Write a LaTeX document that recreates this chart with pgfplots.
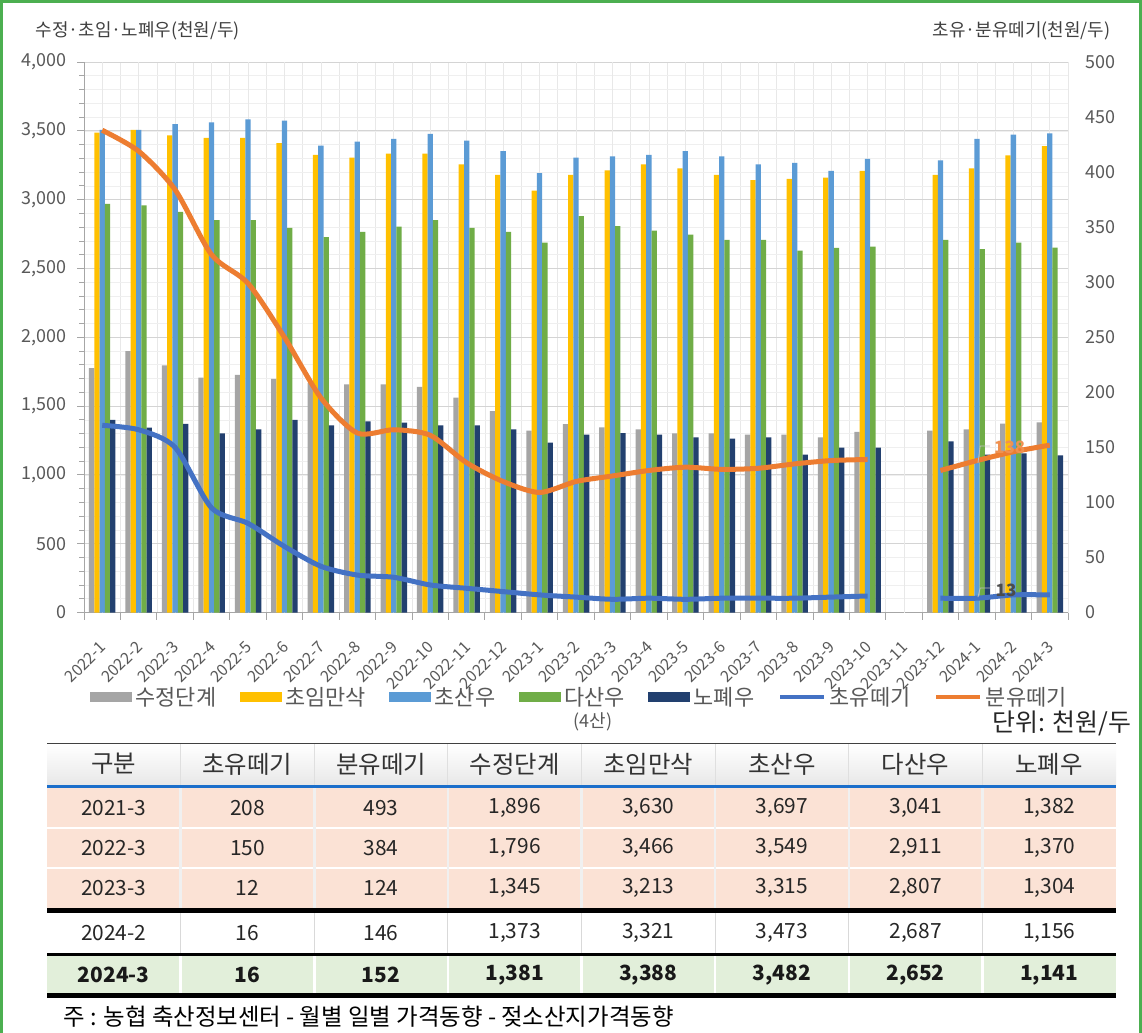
\documentclass[border=0pt]{standalone}
\usepackage{pgfplots}
\pgfplotsset{compat=1.18}
\usepackage{fontspec}
\setmainfont{Noto Sans CJK KR}
\definecolor{cgray}{HTML}{A5A5A5}
\definecolor{cyellow}{HTML}{FFC000}
\definecolor{cblue}{HTML}{5B9BD5}
\definecolor{cgreen}{HTML}{70AD47}
\definecolor{cnavy}{HTML}{22406F}
\definecolor{lblue}{HTML}{4472C4}
\definecolor{lorange}{HTML}{ED7D31}
\definecolor{ticktext}{HTML}{595959}
\definecolor{axisgray}{HTML}{A6A6A6}
\definecolor{gridmajor}{HTML}{D4D4D4}
\definecolor{gridminor}{HTML}{EFEFEF}
\definecolor{gridv}{HTML}{E8E8E8}
\definecolor{frame}{HTML}{4CAF50}
\definecolor{hdrgray}{HTML}{E8E8E8}
\definecolor{tblue}{HTML}{1C6FCB}
\definecolor{tpink}{HTML}{FBE2D5}
\definecolor{tgreen}{HTML}{E2EFDA}
\pgfplotsset{
  barleg/.style={legend image code/.code={\fill[##1] (0bp,-5bp) rectangle (42bp,5bp);}},
  lineleg/.style={legend image code/.code={\draw[##1,line width=4.5bp] (0bp,0bp) -- (44bp,0bp);}},
}
\begin{document}
\begin{tikzpicture}[x=1bp,y=1bp]
\useasboundingbox (0,0) rectangle (1142,-1033);
\fill[white] (0,0) rectangle (1142,-1033);
\draw[line width=3bp, color=frame] (1.5,-1033) -- (1.5,-1.5) -- (1140.5,-1.5) -- (1140.5,-1033);

\begin{axis}[
  at={(84bp,-612.5bp)}, anchor=south west,
  scale only axis, width=984bp, height=550.5bp,
  xmin=-0.5, xmax=26.5, ymin=0, ymax=4000,
  axis x line*=bottom, axis y line*=left,
  axis line style={draw=axisgray, line width=1bp},
  ybar=0pt, bar width=5.3bp,
  xtick={-0.5,0.5,...,26.5}, xticklabels={},
  extra x ticks={0,...,26},
  extra x tick labels={2022-1,2022-2,2022-3,2022-4,2022-5,2022-6,2022-7,2022-8,2022-9,2022-10,2022-11,2022-12,2023-1,2023-2,2023-3,2023-4,2023-5,2023-6,2023-7,2023-8,2023-9,2023-10,2023-11,2023-12,2024-1,2024-2,2024-3},
  extra x tick style={grid=major, tick style={draw=none},
     tick label style={font=\fontsize{16}{18}\selectfont, color=ticktext, xshift=1bp, yshift=-25bp, rotate=45, anchor=east, inner sep=0pt}},
  ytick={0,500,...,4000},
  minor ytick={0,100,...,4000},
  scaled y ticks=false,
  yticklabel style={/pgf/number format/1000 sep={,}, /pgf/number format/assume math mode=true, font=\fontsize{18}{20}\selectfont, color=ticktext, xshift=-7bp},
  tick align=outside,
  major tick length=7bp, minor tick length=5bp,
  tick style={draw=axisgray, line width=0.8bp},
  xmajorgrids, ymajorgrids, yminorgrids,
  major grid style={draw=gridmajor, line width=0.8bp},
  minor grid style={draw=gridminor, line width=0.6bp},
  x grid style={draw=gridv, line width=0.6bp},
  legend style={at={(0.0061,-0.1535)}, anchor=west, draw=none, fill=none,
     legend columns=-1, inner sep=0pt, outer sep=0pt,
     font=\fontsize{22}{24}\selectfont, text=ticktext,
     nodes={inner sep=1.5bp},
     /tikz/every odd column/.append style={column sep=2bp},
     /tikz/every even column/.append style={column sep=22bp}},
]
\addplot[fill=cgray, draw=none, barleg] coordinates {(0,1775)(1,1900)(2,1796)(3,1706)(4,1726)(5,1697)(6,1668)(7,1658)(8,1658)(9,1639)(10,1561)(11,1464)(12,1321)(13,1368)(14,1345)(15,1331)(16,1302)(17,1302)(18,1292)(19,1292)(20,1273)(21,1312)(23,1321)(24,1331)(25,1373)(26,1381)};
\addlegendentry{수정단계}
\addplot[fill=cyellow, draw=none, barleg] coordinates {(0,3487)(1,3506)(2,3466)(3,3448)(4,3448)(5,3410)(6,3325)(7,3305)(8,3334)(9,3334)(10,3257)(11,3180)(12,3065)(13,3180)(14,3213)(15,3257)(16,3228)(17,3180)(18,3141)(19,3151)(20,3160)(21,3209)(23,3180)(24,3228)(25,3321)(26,3388)};
\addlegendentry{초임만삭}
\addplot[fill=cblue, draw=none, barleg] coordinates {(0,3506)(1,3506)(2,3549)(3,3562)(4,3584)(5,3574)(6,3392)(7,3421)(8,3441)(9,3477)(10,3429)(11,3352)(12,3192)(13,3305)(14,3315)(15,3325)(16,3352)(17,3315)(18,3257)(19,3267)(20,3209)(21,3296)(23,3286)(24,3441)(25,3473)(26,3482)};
\addlegendentry{초산우}
\addplot[fill=cgreen, draw=none, barleg] coordinates {(0,2969)(1,2959)(2,2911)(3,2852)(4,2852)(5,2794)(6,2727)(7,2765)(8,2804)(9,2852)(10,2794)(11,2765)(12,2688)(13,2881)(14,2807)(15,2775)(16,2746)(17,2707)(18,2707)(19,2630)(20,2649)(21,2659)(23,2707)(24,2640)(25,2687)(26,2652)};
\addlegendentry{다산우}
\addplot[fill=cnavy, draw=none, barleg] coordinates {(0,1399)(1,1343)(2,1370)(3,1302)(4,1331)(5,1399)(6,1360)(7,1389)(8,1379)(9,1360)(10,1360)(11,1331)(12,1234)(13,1292)(14,1304)(15,1292)(16,1273)(17,1263)(18,1273)(19,1147)(20,1198)(21,1198)(23,1244)(24,1147)(25,1156)(26,1141)};
\addlegendentry{노폐우}
\addlegendimage{lineleg, color=lblue}
\addlegendentry{초유떼기}
\addlegendimage{lineleg, color=lorange}
\addlegendentry{분유떼기}
\end{axis}

\begin{axis}[
  at={(84bp,-612.5bp)}, anchor=south west,
  scale only axis, width=984bp, height=550.5bp,
  xmin=-0.5, xmax=26.5, ymin=0, ymax=500,
  axis x line=none, axis y line*=right,
  y axis line style={draw=none},
  ytick={0,50,...,500}, major tick length=0pt,
  yticklabel style={/pgf/number format/assume math mode=true, font=\fontsize{18}{20}\selectfont, color=ticktext, xshift=14bp},
]
\addplot[color=lorange, line width=5bp, smooth, tension=0.45] coordinates {(0,438)(1,419)(2,384)(3,325)(4,299)(5,250)(6,195)(7,163)(8,166)(9,161)(10,136)(11,119)(12,109)(13,119)(14,124)(15,129)(16,132)(17,130)(18,131)(19,135)(20,138)(21,139)};
\addplot[color=lorange, line width=5bp, smooth, tension=0.45] coordinates {(23,129)(24,138)(25,146)(26,152)};
\addplot[color=lblue, line width=5bp, smooth, tension=0.45] coordinates {(0,170)(1,166)(2,150)(3,95)(4,81)(5,60)(6,42)(7,34)(8,32)(9,25)(10,22)(11,19)(12,16)(13,14)(14,12)(15,13)(16,12)(17,13)(18,13)(19,13)(20,14)(21,15)};
\addplot[color=lblue, line width=5bp, smooth, tension=0.45] coordinates {(23,13)(24,13)(25,16)(26,16)};
\draw[gray!50, line width=0.8bp] (axis cs:24.03,14) -- (axis cs:24.09,22.3) -- (axis cs:24.36,22.3);
\node[font=\bfseries\fontsize{17}{18}\selectfont, color=black!70] at (axis cs:24.8,20.4) {13};
\draw[gray!50, line width=0.8bp] (axis cs:24.03,136) -- (axis cs:24.09,151.2) -- (axis cs:24.36,151.2);
\node[font=\bfseries\fontsize{17}{18}\selectfont, color=lorange!85] at (axis cs:24.9,150.3) {138};
\end{axis}

\node[anchor=west, font=\fontsize{18}{20}\selectfont, color=black!75] at (32,-31) {수정·초임·노폐우(천원/두)};
\node[anchor=east, font=\fontsize{18}{20}\selectfont, color=black!75] at (1114,-31) {초유·분유떼기(천원/두)};
\node[font=\fontsize{18}{20}\selectfont, color=ticktext] at (593,-722) {(4산)};
\node[anchor=east, font=\fontsize{25}{27}\selectfont, color=black!85] at (1135,-723) {단위: 천원/두};

% table
\shade[top color=white, bottom color=hdrgray] (47,-744) rectangle (1116,-785);
\draw[line width=1.5bp, color=black!75] (47,-743.5) -- (1116,-743.5);
\foreach \k in {1,...,7} \draw[gray!25, line width=1.2bp] ({47+133.625*\k},-744) -- ++(0,-41);
\fill[tpink] (47,-788) rectangle (1116,-908);
\fill[tgreen] (47,-956) rectangle (1116,-993);
\draw[white, line width=2.5bp] (47,-828) -- (1116,-828);
\draw[white, line width=2.5bp] (47,-868) -- (1116,-868);
\foreach \k in {1,...,7} {
  \draw[white!88!gray, line width=2.5bp] ({47+133.625*\k},-788) -- ++(0,-120);
  \draw[gray!30, line width=1bp] ({47+133.625*\k},-913) -- ++(0,-40);
  \draw[white, line width=2.5bp] ({47+133.625*\k},-956) -- ++(0,-37);
}
\draw[line width=3.5bp, color=tblue] (47,-786.5) -- (1116,-786.5);
\draw[line width=5bp, color=black] (47,-910.5) -- (1116,-910.5);
\draw[line width=3.5bp, color=black] (47,-954.5) -- (1116,-954.5);
\draw[line width=5bp, color=black] (47,-995.5) -- (1116,-995.5);

\foreach \t [count=\i from 0] in {구분,초유떼기,분유떼기,수정단계,초임만삭,초산우,다산우,노폐우}
  \node[font=\fontsize{24.5}{26}\selectfont, color=black!80] at ({47+133.625*(\i+0.5)},-764) {\t};
\foreach \t [count=\i from 0] in {2021-3,208,493,{1,896},{3,630},{3,697},{3,041},{1,382}}
  \node[font=\fontsize{21}{23}\selectfont, color=black!85] at ({47+133.625*(\i+0.5)},-808) {\t};
\foreach \t [count=\i from 0] in {2022-3,150,384,{1,796},{3,466},{3,549},{2,911},{1,370}}
  \node[font=\fontsize{21}{23}\selectfont, color=black!85] at ({47+133.625*(\i+0.5)},-848) {\t};
\foreach \t [count=\i from 0] in {2023-3,12,124,{1,345},{3,213},{3,315},{2,807},{1,304}}
  \node[font=\fontsize{21}{23}\selectfont, color=black!85] at ({47+133.625*(\i+0.5)},-888) {\t};
\foreach \t [count=\i from 0] in {2024-2,16,146,{1,373},{3,321},{3,473},{2,687},{1,156}}
  \node[font=\fontsize{21}{23}\selectfont, color=black!85] at ({47+133.625*(\i+0.5)},-933) {\t};
\foreach \t [count=\i from 0] in {2024-3,16,152,{1,381},{3,388},{3,482},{2,652},{1,141}}
  \node[font=\bfseries\fontsize{21}{23}\selectfont, color=black!90] at ({47+133.625*(\i+0.5)},-975) {\t};
\node[anchor=west, font=\fontsize{23.5}{25}\selectfont, color=black] at (60,-1017) {주 : 농협 축산정보센터 - 월별 일별 가격동향 - 젖소산지가격동향};
\end{tikzpicture}
\end{document}
